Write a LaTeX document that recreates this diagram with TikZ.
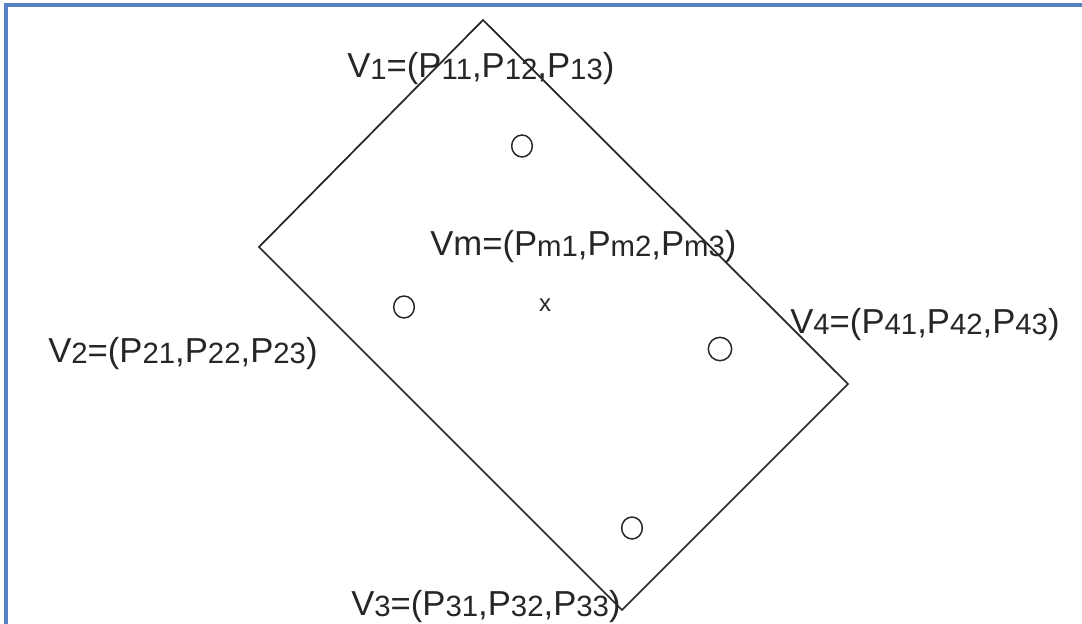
\documentclass[tikz,border=0pt]{standalone}
\usepackage{fontspec}
\setmainfont{Liberation Sans}
\usepackage{xcolor}
\usetikzlibrary{positioning}
\definecolor{frameblue}{HTML}{5582C2}
\definecolor{inkgray}{HTML}{262626}
\newcommand{\lowidx}[1]{{\fontsize{22}{22}\selectfont\raisebox{-1.2pt}{#1}}}
\tikzset{
  coordlabel/.style={inner sep=0pt, anchor=base west, text=inkgray, font=\fontsize{26}{28}\selectfont},
  sample/.style={draw=inkgray, ellipse, line width=1.1pt, minimum width=15.5pt, minimum height=16.5pt, inner sep=0pt},
  edge/.style={draw=inkgray, line width=1.3pt, line join=miter},
  frameline/.style={draw=frameblue, line width=2.6pt}
}
\usetikzlibrary{shapes.geometric}

\begin{document}
\begin{tikzpicture}[x=0.75pt, y=-0.75pt]
  \useasboundingbox (0,0) rectangle (1082,624);
  \draw[frameline] (6,624) -- (6,5) -- (1082,5);

  \coordinate (c1) at (483,20);
  \coordinate (c2) at (259,247);
  \coordinate (c3) at (622,610);
  \coordinate (c4) at (848,384);
  \draw[edge] (c1) -- (c2) -- (c3) -- (c4) -- cycle;

  \node[sample] (o1) at (522,146) {};
  \node[sample] (o2) at (404,307) {};
  \node[sample, minimum width=17.5pt, minimum height=17.5pt] (o4) at (720,349) {};
  \node[sample] (o3) at (632,528) {};
  \node[inner sep=0pt, text=inkgray, font=\fontsize{18}{18}\selectfont] (xm) at (545,305) {x};

  \node[coordlabel] (v1) at (347,78) {V\lowidx{1}=(P\lowidx{11},P\lowidx{12},P\lowidx{13})};
  \node[coordlabel] (v2) at (48,362) {V\lowidx{2}=(P\lowidx{21},P\lowidx{22},P\lowidx{23})};
  \node[coordlabel] (v3) at (351,615) {V\lowidx{3}=(P\lowidx{31},P\lowidx{32},P\lowidx{33})};
  \node[coordlabel] (v4) at (790,333) {V\lowidx{4}=(P\lowidx{41},P\lowidx{42},P\lowidx{43})};
  \node[coordlabel] (vm) at (430,255) {Vm=(P\lowidx{m1},P\lowidx{m2},P\lowidx{m3})};
\end{tikzpicture}
\end{document}
